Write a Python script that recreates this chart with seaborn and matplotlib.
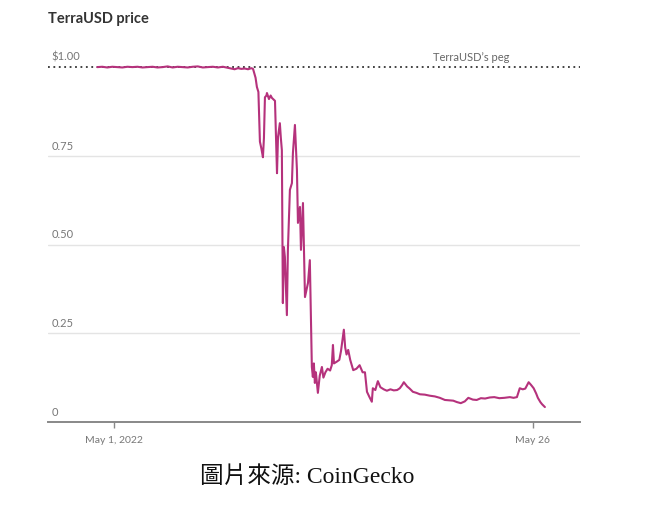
import matplotlib
matplotlib.use("Agg")
import matplotlib.pyplot as plt
import seaborn as sns
import pandas as pd

# fractional days since 2022-05-01 00:00
days = [-1.00, -0.70, -0.40, -0.10, 0.20, 0.50, 0.80, 1.10, 1.40, 1.70, 2.00, 2.30,
        2.60, 2.90, 3.20, 3.50, 3.80, 4.10, 4.40, 4.70, 5.00, 5.30, 5.60, 5.90,
        6.20, 6.50, 6.80, 7.00, 7.20, 7.40, 7.60, 7.80, 8.00, 8.20, 8.30,
        8.45, 8.53, 8.62, 8.71, 8.80, 8.89, 8.95, 9.01, 9.10, 9.13, 9.25, 9.35,
        9.43, 9.61, 9.73, 9.79, 9.90, 9.96, 10.02, 10.08, 10.14, 10.20, 10.32,
        10.38, 10.50, 10.62, 10.68, 10.80, 10.92, 10.98, 11.10, 11.16, 11.28,
        11.40, 11.58, 11.69, 11.81, 11.87, 11.93, 11.99, 12.05, 12.17, 12.28,
        12.41, 12.50, 12.62, 12.75, 12.90, 13.00, 13.07, 13.13, 13.30, 13.45,
        13.55, 13.72, 13.80, 13.88, 13.98, 14.10, 14.28, 14.47, 14.66, 14.84,
        14.98, 15.10, 15.25, 15.39, 15.45, 15.60, 15.68, 15.75, 15.90, 16.10,
        16.29, 16.50, 16.70, 16.90, 17.06, 17.20, 17.30, 17.50, 17.65, 17.84,
        18.05, 18.26, 18.55, 18.85, 19.15, 19.45, 19.75, 20.00, 20.25, 20.47,
        20.70, 20.94, 21.15, 21.42, 21.65, 21.90, 22.15, 22.43, 22.70, 23.00,
        23.30, 23.63, 23.85, 24.05, 24.22, 24.40, 24.55, 24.75, 24.90, 25.05,
        25.20, 25.30, 25.45, 25.55, 25.72]
price = [1.000, 1.001, 0.999, 1.001, 1.000, 0.999, 1.001, 1.000, 1.001, 0.999,
         1.000, 1.001, 0.999, 1.000, 1.002, 0.999, 1.001, 1.000, 0.999, 1.001,
         1.002, 0.999, 1.000, 1.001, 0.999, 1.001, 0.998, 0.996, 0.994, 0.997,
         0.995, 0.996, 0.994, 0.997, 0.995,
         0.970, 0.944, 0.930, 0.790, 0.770, 0.746, 0.800, 0.915, 0.920, 0.927,
         0.910, 0.920, 0.913, 0.905, 0.701, 0.803, 0.842, 0.800, 0.766, 0.335,
         0.493, 0.465, 0.301, 0.485, 0.654, 0.673, 0.758, 0.837, 0.710, 0.561,
         0.606, 0.485, 0.617, 0.352, 0.392, 0.456, 0.155, 0.127, 0.165, 0.110,
         0.140, 0.082, 0.130, 0.155, 0.125, 0.140, 0.150, 0.145, 0.160, 0.217,
         0.165, 0.170, 0.175, 0.200, 0.260, 0.210, 0.190, 0.203, 0.175, 0.146,
         0.150, 0.160, 0.140, 0.140, 0.085, 0.070, 0.057, 0.095, 0.090, 0.104,
         0.115, 0.098, 0.092, 0.088, 0.092, 0.089, 0.090, 0.095, 0.104, 0.112,
         0.100, 0.094, 0.085, 0.082, 0.078, 0.077, 0.074, 0.072, 0.068, 0.062,
         0.061, 0.060, 0.056, 0.053, 0.058, 0.068, 0.063, 0.062, 0.067, 0.066,
         0.069, 0.070, 0.067, 0.068, 0.070, 0.068, 0.070, 0.095, 0.092, 0.094,
         0.112, 0.104, 0.095, 0.080, 0.068, 0.056, 0.050, 0.042]

y_ticks = [0.0, 0.25, 0.50, 0.75, 1.00]
y_labels = ["0", "0.25", "0.50", "0.75", "$1.00"]
x_ticks = ["2022-05-01", "2022-05-26"]
x_labels = ["May 1, 2022", "May 26"]
title = "TerraUSD price"
peg_label = "TerraUSD\u2019s peg"
source = "圖片來源: CoinGecko"

base = pd.Timestamp("2022-05-01")
df = pd.DataFrame({"date": base + pd.to_timedelta(days, unit="D"), "price": price})

sns.set_theme(style="white")
plt.rcParams["font.family"] = ["Lato", "DejaVu Sans"]

fig = plt.figure(figsize=(6.71, 5.09), dpi=100)
ax = fig.add_axes([0.0715, 0.171, 0.7925, 0.732])

line_color = "#b5327c"
sns.lineplot(data=df, x="date", y="price", ax=ax, color=line_color, linewidth=1.5)

ax.set_ylim(0, 1.05)
ax.set_xlim(base - pd.Timedelta(days=3.94), base + pd.Timedelta(days=27.8))

# gridlines
for yv in y_ticks[1:-1]:
    ax.axhline(yv, color="#e4e4e4", linewidth=1.0, zorder=0)
ax.axhline(1.0, color="#333333", linewidth=1.3, linestyle=(0, (1, 2)), zorder=1)

ax.set_yticks([])
for yv, lab in zip(y_ticks, y_labels):
    ax.text(0.007, yv + 0.012, lab, transform=ax.get_yaxis_transform(),
            ha="left", va="bottom", fontsize=8, color="#777777")

ax.text(0.868, 1.0 + 0.012, peg_label, transform=ax.get_yaxis_transform(),
        ha="right", va="bottom", fontsize=8, color="#666666")

ax.set_xticks(pd.to_datetime(x_ticks))
ax.set_xticklabels(x_labels, fontsize=7.5, color="#777777")
ax.tick_params(axis="x", length=4, width=1, color="#888888", pad=6, bottom=True)

for s in ["top", "right", "left"]:
    ax.spines[s].set_visible(False)
ax.spines["bottom"].set_color("#888888")
ax.spines["bottom"].set_linewidth(1.4)
ax.set_xlabel("")
ax.set_ylabel("")

fig.text(0.0715, 0.962, title, fontsize=10.5, fontweight="bold", color="#333333",
         ha="left", va="center")
fig.text(0.458, 0.062, source, fontsize=17, color="#111111", ha="center", va="center",
         family=["Liberation Serif", "Noto Sans CJK TC"])

fig.savefig("out.png", dpi=100)
